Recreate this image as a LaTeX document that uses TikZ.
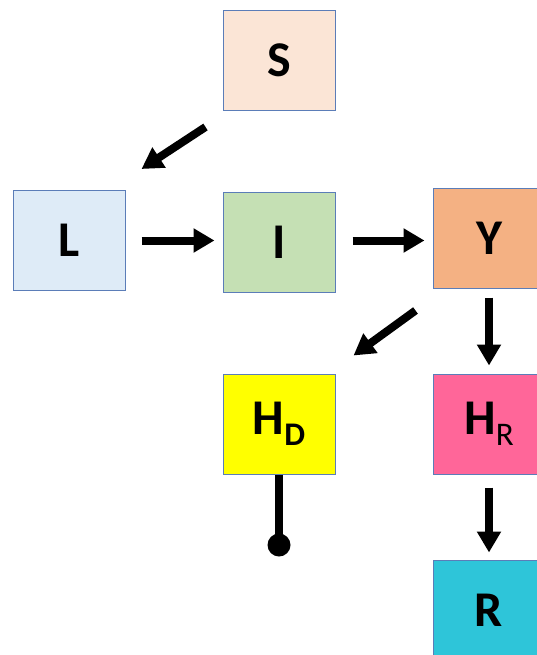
\documentclass[tikz,border=0pt]{standalone}
\usepackage{fontspec}
\setmainfont{Carlito}
\usetikzlibrary{arrows.meta,calc}
\definecolor{edge}{HTML}{5B7DB8}
\definecolor{cS}{HTML}{FBE5D6}
\definecolor{cL}{HTML}{DEEBF7}
\definecolor{cI}{HTML}{C5E0B4}
\definecolor{cY}{HTML}{F4B183}
\definecolor{cHD}{HTML}{FFFF00}
\definecolor{cHR}{HTML}{FF6699}
\definecolor{cR}{HTML}{2EC5D9}
\begin{document}
\begin{tikzpicture}[x=1pt,y=-1pt,
  box/.style={draw=edge,line width=1pt,minimum width=112pt,minimum height=100pt,inner sep=0pt,
    font=\fontsize{50}{50}\selectfont\bfseries},
  arr/.style={line width=8pt,-{Triangle[width=23pt,length=21pt]}}]
\useasboundingbox (0,0) rectangle (537,655);
\clip (0,0) rectangle (537,655);
\node[box,fill=cS] (S) at (279,60.5) {S};
\node[box,fill=cL] (L) at (69,240.5) {L};
\node[box,fill=cI] (I) at (279,242) {I};
\node[box,fill=cY] (Y) at (489,238) {Y};
\node[box,fill=cHD] (HD) at (279,424) {H\raisebox{-11pt}{\fontsize{33}{33}\selectfont D}};
\node[box,fill=cHR] (HR) at (489,424) {H\raisebox{-11pt}{\fontsize{33}{33}\selectfont\mdseries R}};
\node[box,fill=cR] (R) at (489,610) {R};
\coordinate (Dot) at (279,545);
\draw[arr] ($(S.south west)+(-17,16)$) -- ($(L.north east)+(16,-21)$);
\draw[arr,shorten <=16pt,shorten >=8pt] (L.east) -- (L.east -| I.west);
\draw[arr,shorten <=17pt,shorten >=8pt] (I.east |- L.east) -- (L.east -| Y.west);
\draw[arr] ($(Y.south west)+(-17,22)$) -- ($(HD.north east)+(18,-18)$);
\draw[arr,shorten <=9pt,shorten >=8pt] (Y.south) -- (HR.north);
\draw[arr,shorten <=13pt,shorten >=7pt] (HR.south) -- (R.north);
\draw[line width=8pt] (HD.south) -- (Dot);
\fill (Dot) circle (11.5pt);
\end{tikzpicture}
\end{document}
